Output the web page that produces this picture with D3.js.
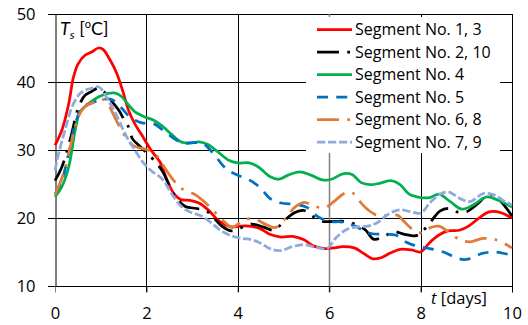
<!DOCTYPE html>
<html>
<head>
<meta charset="utf-8">
<script src="https://cdn.jsdelivr.net/npm/d3@7"></script>
<style>
  html, body { margin: 0; padding: 0; background: #fff; }
  svg { display: block; font-family: "Open Sans", Lato, sans-serif; }
</style>
</head>
<body>
<svg id="chart" width="528" height="325"></svg>
<script>
// Surface temperature of pipeline segments over ten days
const xTicks = [0, 2, 4, 6, 8, 10];
const yTicks = [10, 20, 30, 40, 50];

const seriesNames = [
  "Segment No. 1, 3",
  "Segment No. 2, 10",
  "Segment No. 4",
  "Segment No. 5",
  "Segment No. 6, 8",
  "Segment No. 7, 9"
];

// time in days
const tSeg13 = [0,0.15,0.3,0.4,0.5,0.65,0.8,0.95,1.05,1.2,1.35,1.5,1.6,1.75,1.9,2.1,2.3,2.45,2.6,2.75,2.95,3.15,3.35,3.6,3.85,4.05,4.25,4.5,4.7,4.95,5.2,5.45,5.65,5.9,6.1,6.3,6.55,6.75,6.95,7.15,7.35,7.55,7.8,8.0,8.2,8.4,8.6,8.85,9.05,9.3,9.5,9.75,10];
const seg13 = [30.7,32.9,36.8,40.6,42.6,43.9,44.4,45.0,44.8,43.3,41.3,38.3,36.0,33.8,32.2,30.0,28.2,25.6,23.6,22.7,22.6,22.2,21.2,19.5,18.7,18.8,18.8,18.4,17.6,17.2,17.3,16.8,15.9,15.5,15.6,15.8,15.6,14.8,14.0,14.2,14.9,15.4,15.3,15.0,16.4,17.5,18.1,18.2,18.8,20.1,20.9,20.8,20.0];

const tSeg210 = [0,0.15,0.35,0.5,0.65,0.8,0.95,1.1,1.25,1.4,1.5,1.6,1.7,1.85,2.0,2.15,2.35,2.5,2.65,2.85,3.1,3.3,3.45,3.65,3.85,4.05,4.3,4.55,4.8,5.0,5.25,5.45,5.65,5.85,6.1,6.35,6.6,6.8,6.97,7.18,7.4,7.65,7.9,8.05,8.25,8.42,8.62,8.8,9.0,9.3,9.48,9.7,10];
const seg210 = [25.5,27.5,32.0,36.0,38.0,38.6,39.1,38.4,37.1,35.8,34.6,33.5,31.6,30.6,29.6,28.6,26.9,24.8,23.0,21.7,21.4,21.1,20.2,18.8,18.1,18.5,19.1,18.7,18.2,19.5,20.8,21.1,20.2,19.5,19.5,19.5,19.0,18.2,16.9,17.2,18.0,17.6,17.4,18.1,19.7,21.0,21.4,20.9,20.9,22.4,23.5,22.8,20.3];

const tSeg4 = [0,0.15,0.3,0.45,0.55,0.75,0.95,1.15,1.3,1.45,1.6,1.75,1.95,2.15,2.35,2.55,2.75,2.95,3.15,3.35,3.55,3.8,4.0,4.25,4.45,4.7,4.9,5.1,5.35,5.6,5.85,6.05,6.3,6.5,6.7,6.9,7.1,7.35,7.55,7.75,8.0,8.2,8.4,8.65,8.9,9.15,9.45,9.7,10];
const seg4 = [23.1,24.6,27.5,33.2,35.6,36.9,37.8,38.3,38.4,37.9,36.7,35.6,34.9,34.4,33.5,32.3,31.2,31.0,31.2,30.8,29.8,28.5,28.1,28.1,27.5,26.1,25.7,26.3,26.8,26.3,25.6,25.7,26.5,26.4,25.2,24.9,25.1,25.5,24.9,23.5,23.0,23.0,23.5,22.4,21.3,21.9,23.1,22.6,21.6];

const tSeg5 = [0,0.15,0.3,0.45,0.6,0.8,1.0,1.25,1.45,1.65,1.9,2.15,2.35,2.6,2.8,3.05,3.25,3.45,3.75,4.0,4.25,4.5,4.7,4.95,5.25,5.5,5.75,6.0,6.3,6.6,6.85,7.15,7.45,7.7,7.95,8.2,8.5,8.8,9.0,9.35,9.65,10];
const seg5 = [23.5,25.5,29.5,34.0,36.3,36.9,37.4,37.4,36.2,34.8,34.0,33.9,33.0,31.7,31.0,31.1,30.9,29.6,27.2,26.3,25.6,24.4,22.9,22.2,22.0,21.6,20.2,19.5,19.4,18.7,17.8,17.6,17.5,16.4,15.8,15.5,15.0,14.1,13.9,14.8,15.0,14.5];

const tSeg68 = [0,0.2,0.37,0.52,0.66,0.88,1.02,1.14,1.28,1.43,1.58,1.72,1.93,2.1,2.25,2.4,2.6,2.8,3.05,3.25,3.45,3.65,3.88,4.1,4.35,4.6,4.82,5.05,5.25,5.45,5.65,5.9,6.1,6.3,6.45,6.55,6.7,6.85,7.05,7.3,7.5,7.65,7.85,8.03,8.22,8.4,8.62,8.86,9.08,9.37,9.65,10];
const seg68 = [23.4,26.8,31.5,35.0,36.4,37.1,37.5,37.0,35.2,33.2,31.6,30.6,30.2,29.8,29.0,27.4,25.5,24.2,23.5,22.5,21.2,19.8,18.6,19.6,19.9,19.1,18.6,20.0,21.6,22.3,21.8,21.5,22.4,23.5,23.9,23.5,22.2,21.2,20.4,20.4,20.4,19.4,18.2,17.8,18.6,18.8,17.9,16.8,16.5,17.0,16.8,15.6];

const tSeg79 = [0,0.08,0.22,0.37,0.52,0.66,0.81,0.95,1.06,1.17,1.32,1.47,1.62,1.75,1.9,2.1,2.35,2.55,2.75,2.95,3.2,3.4,3.6,3.85,4.1,4.3,4.5,4.7,4.92,5.2,5.45,5.7,5.95,6.15,6.38,6.6,6.85,7.05,7.3,7.55,7.8,8.0,8.2,8.42,8.62,8.85,9.08,9.37,9.6,9.85,10];
const seg79 = [27.0,29.5,32.9,36.3,38.1,38.8,39.1,39.3,38.6,37.2,35.5,33.3,31.3,30.0,28.4,27.0,25.7,23.6,21.8,20.9,20.3,19.4,18.3,17.4,17.0,16.8,16.3,15.5,15.2,15.8,16.1,15.7,15.5,17.1,18.3,18.7,18.8,19.3,20.6,21.2,20.9,20.7,22.2,23.5,23.8,22.9,22.4,23.6,23.4,22.4,21.9];

const W = 2.75;
const styles = [
  { color: "#ff0000", dash: null },
  { color: "#000000", dash: [8 * W, 3 * W, W, 3 * W].join(",") },
  { color: "#00b050", dash: null },
  { color: "#0070c0", dash: [4 * W, 3 * W].join(",") },
  { color: "#e07b39", dash: [8 * W, 3 * W, W, 3 * W].join(",") },
  { color: "#8faadc", dash: [3 * W, W].join(",") }
];

const series = [
  [tSeg13, seg13], [tSeg210, seg210], [tSeg4, seg4],
  [tSeg5, seg5], [tSeg68, seg68], [tSeg79, seg79]
].map(([ts, vs], i) => ({
  name: seriesNames[i],
  style: styles[i],
  points: ts.map((t, k) => ({ t, v: vs[k] }))
}));

const svg = d3.select("#chart");
const plotL = 55, plotR = 512, plotT = 14, plotB = 286;
const x = d3.scaleLinear().domain([0, 10]).range([plotL, plotR]);
const y = d3.scaleLinear().domain([10, 50]).range([plotB, plotT]);
const FONT = "'Open Sans', sans-serif";

// horizontal grid lines (with outward tick stubs)
svg.append("g").selectAll("line")
  .data(yTicks.filter(d => d > 10))
  .join("line")
  .attr("x1", plotL - 7).attr("x2", plotR)
  .attr("y1", d => Math.round(y(d)) + 0.5).attr("y2", d => Math.round(y(d)) + 0.5)
  .attr("stroke", "#000").attr("stroke-width", 1);

// vertical grid lines
svg.append("g").selectAll("line")
  .data(xTicks.filter(d => d > 0))
  .join("line")
  .attr("x1", d => Math.round(x(d)) + 0.5).attr("x2", d => Math.round(x(d)) + 0.5)
  .attr("y1", plotT).attr("y2", plotB + 6)
  .attr("stroke", d => d === 6 ? "#808080" : "#000")
  .attr("stroke-width", d => d === 6 ? 1.5 : 1);

// y axis
const yAxis = svg.append("g")
  .attr("transform", `translate(${plotL + 0.5},0)`)
  .call(d3.axisLeft(y).tickValues(yTicks).tickSize(7).tickPadding(13));
yAxis.select(".domain").attr("stroke", "#000");
yAxis.selectAll("line").attr("stroke", "#000");
yAxis.selectAll("text").attr("font-size", 16.5).attr("fill", "#000")
  .attr("font-family", FONT);

// x axis
const xAxis = svg.append("g")
  .attr("transform", `translate(0,${plotB + 0.5})`)
  .call(d3.axisBottom(x).tickValues(xTicks).tickSize(6).tickPadding(15).tickFormat(d3.format("d")));
xAxis.select(".domain").attr("stroke", "#000").attr("d", `M${plotL - 7},0H${plotR}`);
xAxis.selectAll(".tick line").attr("stroke", d => d === 0 ? "#808080" : "#000");
xAxis.selectAll("text").attr("font-size", 16.5).attr("fill", "#000")
  .attr("font-family", FONT);

// series lines
const line = d3.line()
  .x(d => x(d.t))
  .y(d => y(d.v))
  .curve(d3.curveCatmullRom.alpha(0.5));

svg.append("g").selectAll("path")
  .data(series)
  .join("path")
  .attr("d", d => line(d.points))
  .attr("fill", "none")
  .attr("stroke", d => d.style.color)
  .attr("stroke-width", W)
  .attr("stroke-dasharray", d => d.style.dash)
  .attr("stroke-linejoin", "round");

// legend
const legend = svg.append("g");
legend.append("rect")
  .attr("x", 306).attr("y", 17).attr("width", 194).attr("height", 136)
  .attr("fill", "#fff");
const rows = legend.selectAll("g.row")
  .data(series)
  .join("g")
  .attr("class", "row")
  .attr("transform", (d, i) => `translate(0,${29.5 + i * 22.5})`);
rows.append("line")
  .attr("x1", 317).attr("x2", 352).attr("y1", 0).attr("y2", 0)
  .attr("stroke", d => d.style.color)
  .attr("stroke-width", W)
  .attr("stroke-dasharray", d => d.style.dash);
rows.append("text")
  .attr("x", 355).attr("y", 0).attr("dy", "0.36em")
  .attr("font-size", 16).attr("fill", "#000")
  .attr("font-family", FONT)
  .text(d => d.name);

// axis titles
const yt = svg.append("text").attr("x", 60).attr("y", 35)
  .attr("font-size", 18).attr("fill", "#000")
  .attr("font-family", "Lato, sans-serif");
yt.append("tspan").attr("font-style", "italic").text("T");
yt.append("tspan").attr("font-style", "italic").attr("font-size", 12).attr("dy", 4).text("s");
yt.append("tspan").attr("dy", -4).text(" [");
yt.append("tspan").attr("font-size", 11).attr("dy", -7).text("o");
yt.append("tspan").attr("dy", 7).text("C]");

const xt = svg.append("text").attr("x", 431).attr("y", 304)
  .attr("font-size", 16.5).attr("fill", "#000")
  .attr("font-family", FONT);
xt.append("tspan").attr("font-style", "italic").text("t");
xt.append("tspan").text(" [days]");
</script>
</body>
</html>
